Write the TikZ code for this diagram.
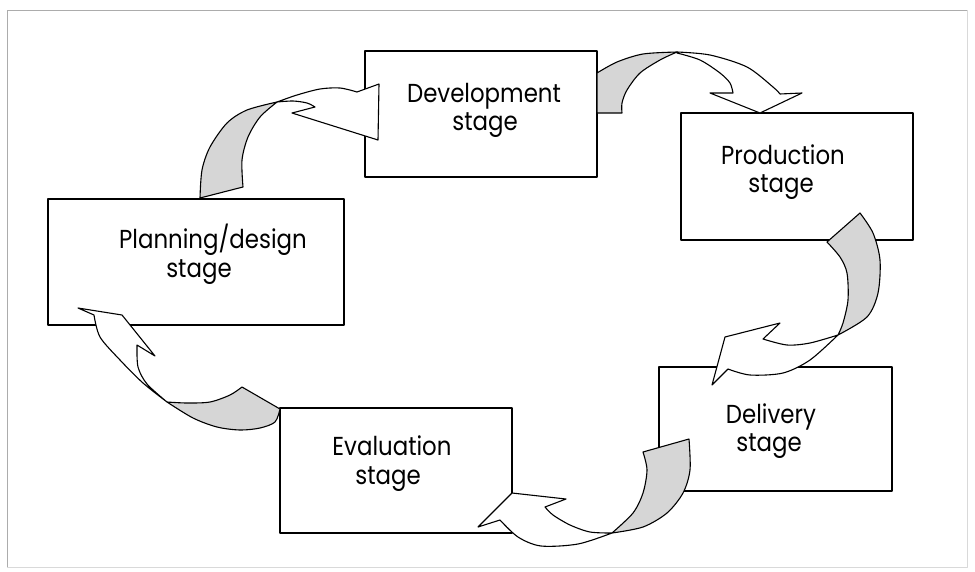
\documentclass[tikz,border=0pt]{standalone}
\usepackage{fontspec}
\newfontfamily\diagfont{Poppins}[FakeStretch=0.88]
\begin{document}
\begin{tikzpicture}[x=1pt,y=-1pt,line join=round,
  stagebox/.style={draw,line width=1.1pt,inner sep=0pt},
  lbl/.style={anchor=base,inner sep=0pt,font=\diagfont\fontsize{26}{28}\selectfont},
  ribbon/.style={draw,line width=1.1pt,fill=white},
  twist/.style={draw,line width=1.1pt,fill=black!16}]
\useasboundingbox (0,0) rectangle (975,571);
% frame
\draw[gray!65,line width=0.9pt] (967,10) -- (7,10) -- (7,567);
\draw[gray!30,line width=0.6pt] (967,10) -- (967,567) -- (7,567);
% boxes
\node[stagebox,minimum width=232pt,minimum height=126pt] (dev) at (481,114) {};
\node[stagebox,minimum width=232pt,minimum height=127pt] (prod) at (797,176.5) {};
\node[stagebox,minimum width=296pt,minimum height=126pt] (plan) at (196,262) {};
\node[stagebox,minimum width=233pt,minimum height=124pt] (deliv) at (775.5,429) {};
\node[stagebox,minimum width=232pt,minimum height=125pt] (eval) at (396,470.5) {};
% labels
\node[lbl] (devA) at (484,102) {Development};
\node[lbl] (devB) at (485,130) {stage};
\node[lbl] (prodA) at (783,164) {Production};
\node[lbl] (prodB) at (781,192) {stage};
\node[lbl] (planA) at (213,248) {Planning/design};
\node[lbl] (planB) at (199,277) {stage};
\node[lbl] (delivA) at (771,423) {Delivery};
\node[lbl] (delivB) at (769,451) {stage};
\node[lbl] (evalA) at (392,455) {Evaluation};
\node[lbl] (evalB) at (388,484) {stage};
% arrow 1: planning -> development
\path[twist] (243,187) -- (200,198)
  -- plot[smooth] coordinates {(200,198) (202,170) (210,147) (227,123) (247,110) (277,102)}
  -- plot[smooth] coordinates {(277,102) (260,117) (248,137) (242,160) (243,187)} -- cycle;
\path[ribbon] (277,102)
  -- plot[smooth] coordinates {(277,102) (297,95) (320,89) (340,88) (357,92)}
  -- (379,84) -- (378,140) -- (292,113) -- (315,107)
  -- plot[smooth] coordinates {(315,107) (307,103) (293,101) (277,102)} -- cycle;
% arrow 2: development -> production
\path[twist] (622,113) -- (597,113) -- (597,73)
  -- plot[smooth] coordinates {(597,73) (617,62) (643,54) (677,52)}
  -- plot[smooth] coordinates {(677,52) (660,60) (640,73) (627,90) (622,103) (622,113)} -- cycle;
\path[ribbon] (677,52)
  -- plot[smooth] coordinates {(677,52) (710,55) (747,67) (773,87) (780,94)}
  -- (802,93) -- (760,113) -- (710,93) -- (733,93)
  -- plot[smooth] coordinates {(733,93) (730,83) (720,73) (700,60) (677,53)} -- cycle;
% arrow 3: production -> delivery
\path[twist] (827,242) -- (860,213)
  -- plot[smooth] coordinates {(860,213) (873,233) (880,260) (878,293) (867,317) (838,335)}
  -- plot[smooth] coordinates {(838,335) (843,323) (848,300) (847,273) (840,257) (827,242)} -- cycle;
\path[ribbon] (838,335)
  -- plot[smooth] coordinates {(838,335) (810,343) (787,345) (763,339)}
  -- (780,323) -- (725,337) -- (712,385) -- (728,369)
  -- plot[smooth] coordinates {(728,369) (750,375) (783,373) (810,360) (838,335)} -- cycle;
% arrow 4: delivery -> evaluation
\path[twist] (643,452) -- (689,439)
  -- plot[smooth] coordinates {(689,439) (690,470) (683,493) (667,513) (643,527) (612,533)}
  -- plot[smooth] coordinates {(612,533) (633,513) (643,493) (647,470) (643,452)} -- cycle;
\path[ribbon] (612,533)
  -- plot[smooth] coordinates {(612,533) (590,532) (570,525) (553,515) (545,507)}
  -- (566,499) -- (512,493) -- (478,527) -- (500,520)
  -- plot[smooth] coordinates {(500,520) (518,537) (541,546) (578,544) (612,533)} -- cycle;
% arrow 5: evaluation -> planning
\path[twist] (242,387) -- (280,409)
  -- plot[smooth] coordinates {(280,409) (275,422) (260,428) (240,430) (217,427) (193,418) (167,402)}
  -- plot[smooth] coordinates {(167,402) (187,403) (210,402) (230,395) (242,387)} -- cycle;
\path[ribbon] (167,402)
  -- plot[smooth] coordinates {(167,402) (147,384) (138,367) (137,345)}
  -- (155,356) -- (122,315) -- (78,308) -- (94,315)
  -- plot[smooth] coordinates {(94,315) (100,337) (120,360) (143,383) (167,402)} -- cycle;
\end{tikzpicture}
\end{document}
